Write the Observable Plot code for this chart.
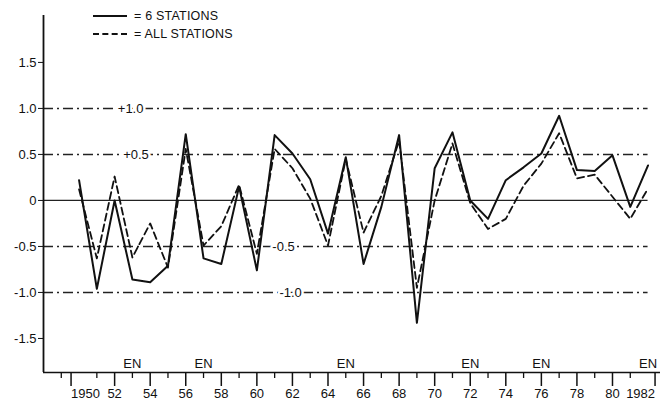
<!DOCTYPE html>
<html>
<head>
<meta charset="utf-8">
<script src="https://cdn.jsdelivr.net/npm/d3@7"></script>
<script src="https://cdn.jsdelivr.net/npm/@observablehq/plot@0.6"></script>
<style>
  html, body { margin: 0; padding: 0; background: #fff; }
  #wrap { position: relative; width: 660px; height: 404px; font-family: "Liberation Sans", Arial, sans-serif; }
  .leg { position: absolute; display: flex; align-items: center; font-size: 12.5px; color: #111; letter-spacing: 0.2px; }
  .sw { width: 34px; height: 0; margin-right: 7px; }
  .sw.solid { border-top: 2px solid #111; }
  .sw.dash { border-top: 2px dashed #111; }
</style>
</head>
<body>
<div id="wrap">
  <div id="chart"></div>
  <div class="leg" style="left:93px; top:9px;"><div class="sw solid"></div><span>= 6 STATIONS</span></div>
  <div class="leg" style="left:93px; top:27px;"><div class="sw dash"></div><span>= ALL STATIONS</span></div>
</div>
<script>
// ---- data ----
const years = d3.range(1950, 1983);
const sixStations = [0.22, -0.96, 0.00, -0.86, -0.89, -0.71, 0.72, -0.63, -0.69, 0.15,
                     -0.76, 0.71, 0.51, 0.23, -0.36, 0.47, -0.69, -0.07, 0.71, -1.33,
                     0.35, 0.74, 0.00, -0.20, 0.22, 0.36, 0.51, 0.92, 0.33, 0.32,
                     0.49, -0.07, 0.38];
const allStations = [0.12, -0.63, 0.26, -0.62, -0.25, -0.73, 0.56, -0.49, -0.28, 0.17,
                     -0.58, 0.56, 0.35, 0.02, -0.49, 0.45, -0.35, 0.05, 0.65, -0.95,
                     0.00, 0.62, -0.03, -0.31, -0.20, 0.16, 0.40, 0.73, 0.24, 0.28,
                     0.04, -0.20, 0.13];
const elNinoYears = [1953, 1957, 1965, 1972, 1976, 1982];
const majorTicks = [1950, 1952, 1954, 1956, 1958, 1960, 1962, 1964, 1966, 1968, 1970, 1972, 1974, 1976, 1978, 1980, 1982];
const majorTickLabels = ["1950", "52", "54", "56", "58", "60", "62", "64", "66", "68", "70", "72", "74", "76", "78", "80", "1982"];
const minorTicks = [1949, 1951, 1953, 1955, 1957, 1959, 1961, 1963, 1965, 1967, 1969, 1971, 1973, 1975, 1977, 1979, 1981];
const yTicks = [-1.5, -1.0, -0.5, 0, 0.5, 1.0, 1.5];
const yTickLabels = ["-1.5", "-1.0", "-0.5", "0", "0.5", "1.0", "1.5"];
const refLevels = [1.0, 0.5, -0.5, -1.0];
const refLabels = ["+1.0", "+0.5", "-0.5", "-1.0"];
const refLabelYears = [1952.9, 1953.2, 1961.5, 1961.9];
const xDomain = [1948, 1982.7];
const yDomain = [-1.87, 2.01];

// ---- tables ----
const six = years.map((y, i) => ({year: y, v: sixStations[i]}));
const all = years.map((y, i) => ({year: y, v: allStations[i]}));
const refs = refLevels.map((v, i) => ({v, label: refLabels[i], year: refLabelYears[i]}));
const xLab = new Map(majorTicks.map((d, i) => [d, majorTickLabels[i]]));
const yLab = new Map(yTicks.map((d, i) => [d, yTickLabels[i]]));
const firstTick = majorTicks[0];
const lastTick = majorTicks[majorTicks.length - 1];
const innerTicks = majorTicks.slice(1, -1);

const axisStyle = {tickSize: 14, tickPadding: 2, fontSize: 13, tickFormat: d => xLab.get(d), label: null, stroke: "#111", strokeWidth: 1.5};

const chart = Plot.plot({
  width: 660,
  height: 404,
  marginLeft: 43,
  marginRight: 0,
  marginTop: 15,
  marginBottom: 32,
  style: {background: "#fff", fontFamily: "Liberation Sans, Arial, sans-serif", color: "#111"},
  x: {domain: xDomain},
  y: {domain: yDomain},
  marks: [
    // reference lines
    Plot.ruleY(refs, {y: "v", x1: xDomain[0], x2: 1982, stroke: "#222", strokeWidth: 1.5, strokeDasharray: "10,4,2,4"}),
    Plot.ruleY([0], {x1: xDomain[0], x2: 1982, stroke: "#222", strokeWidth: 1.2}),
    Plot.text(refs, {x: "year", y: "v", text: "label", fontSize: 13, fill: "#111", stroke: "#fff", strokeWidth: 5, paintOrder: "stroke"}),
    // series
    Plot.line(all, {x: "year", y: "v", stroke: "#111", strokeWidth: 1.8, strokeDasharray: "7,4"}),
    Plot.line(six, {x: "year", y: "v", stroke: "#111", strokeWidth: 2}),
    // frame lines
    Plot.ruleX([xDomain[0]], {stroke: "#111", strokeWidth: 1.8}),
    Plot.ruleY([yDomain[0]], {stroke: "#111", strokeWidth: 1.5}),
    // axes
    Plot.axisY(yTicks, {tickSize: 5, tickPadding: 2, fontSize: 13, tickFormat: d => yLab.get(d), label: null, stroke: "#111"}),
    Plot.axisX(innerTicks, axisStyle),
    Plot.axisX([firstTick], {...axisStyle, textAnchor: "start", dx: -8}),
    Plot.axisX([lastTick], {...axisStyle, textAnchor: "end", dx: 7}),
    Plot.axisX(minorTicks, {tickSize: 6, tickFormat: () => "", label: null, stroke: "#111", strokeWidth: 1.3}),
    // El Niño markers
    Plot.text(elNinoYears, {x: d => d, y: yDomain[0], dy: -9, text: () => "EN", fontSize: 13, fill: "#111"})
  ]
});
document.getElementById("chart").appendChild(chart);
</script>
</body>
</html>
